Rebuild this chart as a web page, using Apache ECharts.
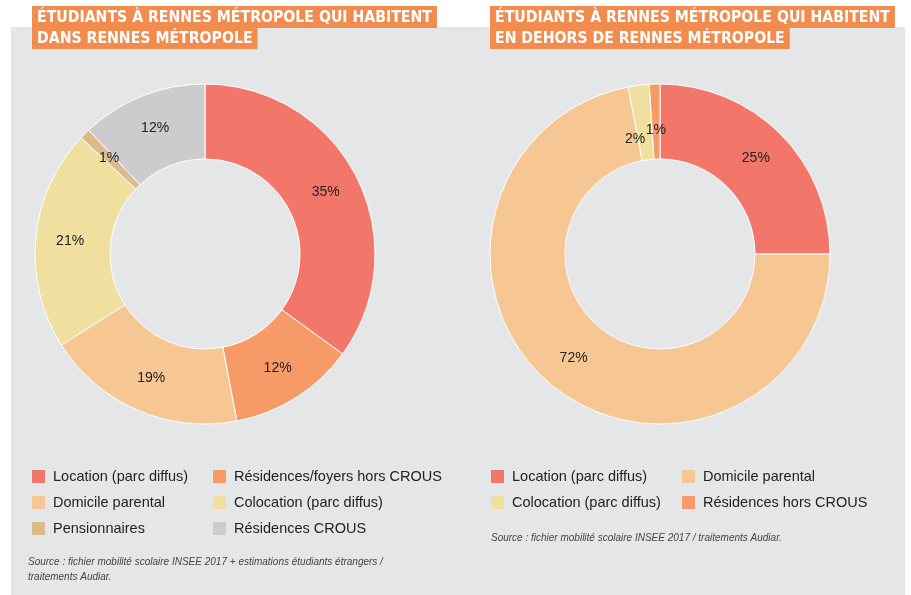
<!DOCTYPE html>
<html><head><meta charset="utf-8">
<script src="https://cdn.jsdelivr.net/npm/echarts@6/dist/echarts.min.js"></script>
<style>html,body{margin:0;padding:0;background:#fff}#c{width:911px;height:595px}</style>
</head><body><div id="c"></div>
<script>
const leftNames = ['Location (parc diffus)','Résidences/foyers hors CROUS','Domicile parental','Colocation (parc diffus)','Pensionnaires','Résidences CROUS'];
const leftValues = [35,12,19,21,1,12];
const rightNames = ['Location (parc diffus)','Domicile parental','Colocation (parc diffus)','Résidences hors CROUS'];
const rightValues = [25,72,2,1];
const colors = {
 'Location (parc diffus)':'#F2776A',
 'Résidences/foyers hors CROUS':'#F69A68',
 'Résidences hors CROUS':'#F69A68',
 'Domicile parental':'#F6C693',
 'Colocation (parc diffus)':'#EFE0A0',
 'Pensionnaires':'#DDBA8A',
 'Résidences CROUS':'#CCCCCE'
};
// small label nudges for the two thin slices of the right ring
const rightLabelOffsets = {'Colocation (parc diffus)':[-8,20], 'Résidences hors CROUS':[0,12]};
const titleFont = "'DejaVu Sans Condensed', 'DejaVu Sans', sans-serif";
const bodyFont = "'Liberation Sans', Arial, sans-serif";
const mk = (names, vals, offs) => names.map((n,i)=>{
  const d = {name:n, value:vals[i], itemStyle:{color:colors[n]}};
  if (offs && offs[n]) d.label = {offset:offs[n]};
  return d;
});
const chart = echarts.init(document.getElementById('c'));
const tBox = (text, left, top) => ({text, left, top, padding:[3,5,1,5], backgroundColor:'#F28C4E',
  textStyle:{color:'#fff', fontSize:15.7, fontWeight:'bold', fontFamily:titleFont, lineHeight:18}});
const legendBase = {orient:'vertical', icon:'rect', itemWidth:13, itemHeight:13, itemGap:11, padding:0,
  selectedMode:false, itemStyle:{borderWidth:0},
  textStyle:{fontSize:14.5, color:'#222', fontFamily:bodyFont, lineHeight:15, padding:[0,0,0,3]}};
const pieLabel = {position:'inside', formatter:'{c}%', fontSize:14, color:'#222', fontFamily:bodyFont};
chart.setOption({
 backgroundColor:'#fff',
 graphic:[{type:'rect', shape:{x:11,y:27,width:894,height:568}, style:{fill:'#E5E6E8'}, z:-10}],
 title:[
  tBox('ÉTUDIANTS À RENNES MÉTROPOLE QUI HABITENT',32,6),
  tBox('DANS RENNES MÉTROPOLE',32,27),
  tBox('ÉTUDIANTS À RENNES MÉTROPOLE QUI HABITENT',490,6),
  tBox('EN DEHORS DE RENNES MÉTROPOLE',490,27),
  {text:'Source : fichier mobilité scolaire INSEE 2017 + estimations étudiants étrangers /\ntraitements Audiar.', left:28, top:555, padding:0,
   textStyle:{fontSize:10, fontStyle:'italic', fontWeight:'normal', color:'#444', fontFamily:bodyFont, lineHeight:15}},
  {text:'Source : fichier mobilité scolaire INSEE 2017 / traitements Audiar.', left:491, top:531, padding:0,
   textStyle:{fontSize:10, fontStyle:'italic', fontWeight:'normal', color:'#444', fontFamily:bodyFont, lineHeight:15}}
 ],
 legend:[
  Object.assign({}, legendBase, {left:32, top:469, data:['Location (parc diffus)','Domicile parental','Pensionnaires']}),
  Object.assign({}, legendBase, {left:213, top:469, data:['Résidences/foyers hors CROUS','Colocation (parc diffus)','Résidences CROUS']}),
  Object.assign({}, legendBase, {left:491, top:469, data:['Location (parc diffus)','Colocation (parc diffus)']}),
  Object.assign({}, legendBase, {left:682, top:469, data:['Domicile parental','Résidences hors CROUS']})
 ],
 series:[
  {type:'pie', center:[205,254], radius:[95,170], startAngle:90, clockwise:true, silent:true,
   avoidLabelOverlap:false, labelLayout:{hideOverlap:false},
   itemStyle:{borderColor:'#fff', borderWidth:1},
   label:pieLabel, labelLine:{show:false}, data:mk(leftNames,leftValues)},
  {type:'pie', center:[660,254], radius:[95,170], startAngle:90, clockwise:true, silent:true,
   avoidLabelOverlap:false, labelLayout:{hideOverlap:false},
   itemStyle:{borderColor:'#fff', borderWidth:1},
   label:pieLabel, labelLine:{show:false}, data:mk(rightNames,rightValues,rightLabelOffsets)}
 ]
});
</script></body></html>
